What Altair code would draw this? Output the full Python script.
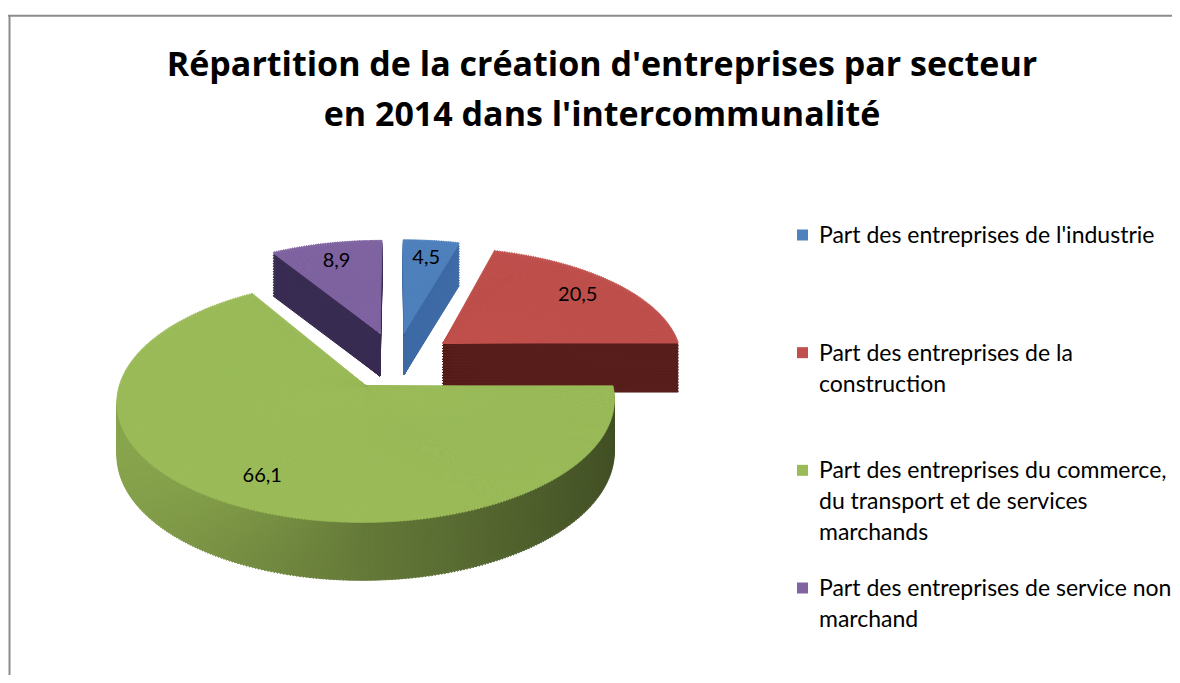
import math
import altair as alt
import pandas as pd

# ---------------- data ----------------
CATEGORIES = [
    "Part des entreprises de l'industrie",
    "Part des entreprises de la construction",
    "Part des entreprises du commerce, du transport et de services marchands",
    "Part des entreprises de service non marchand",
]
VALUES = [4.5, 20.5, 66.1, 8.9]
LEGEND_LINES = [
    "Part des entreprises de l'industrie",
    "Part des entreprises de la\nconstruction",
    "Part des entreprises du commerce,\ndu transport et de services\nmarchands",
    "Part des entreprises de service non\nmarchand",
]
TITLE = [
    "Répartition de la création d'entreprises par secteur",
    "en 2014 dans l'intercommunalité",
]

# ---------------- styles ----------------
TOP_COLORS = ["#4f81bd", "#c0504d", "#9bbb59", "#8064a2"]
SIDE_COLORS = ["#3e6aa6", "#581f1c", "#657a39", "#392c52"]
SIDE_SHADE = [0.0, 0.0, 0.35, 0.0]
FONT = "Lato"
TITLE_FONT = "Open Sans"

# ---------------- layout (page pixels) ----------------
OX, OY = 8, 8
W, H = 1164, 667
CX, CY = 396, 360          # pie centre
A, B = 240, 115            # horizontal / vertical radius
K = 0.13                   # perspective factor
E = 0.25                   # explosion (fraction of radius)
D0 = 50                    # thickness
STEP = math.radians(0.7)
NS = 16
LF = 0.78                  # label radial position


def hex_rgb(h):
    h = h.lstrip("#")
    return [int(h[i:i + 2], 16) for i in (0, 2, 4)]


side_rgb = [hex_rgb(c) for c in SIDE_COLORS]
df = pd.DataFrame({
    "idx": list(range(len(CATEGORIES))),
    "cat": CATEGORIES,
    "value": VALUES,
    "legend": LEGEND_LINES,
    "top": TOP_COLORS,
    "sr": [c[0] for c in side_rgb],
    "sg": [c[1] for c in side_rgb],
    "sb": [c[2] for c in side_rgb],
    "shade": SIDE_SHADE,
})


def sx(u, v):
    return f"({CX - OX} + {A}*({u})*(1-{K}*({v})))"


def sy(u, v):
    return f"({CY - OY} - {B}*({v})*(1-{K}*({v})))"


base = (
    alt.Chart(df)
    .transform_joinaggregate(total="sum(value)")
    .transform_window(cum="sum(value)", sort=[alt.SortField("idx")], frame=[None, 0])
    .transform_calculate(
        p0="2*PI*(datum.cum - datum.value)/datum.total",
        p1="2*PI*datum.cum/datum.total",
    )
    .transform_calculate(pmid="(datum.p0 + datum.p1)/2")
    .transform_calculate(u0=f"{E}*sin(datum.pmid)", v0=f"{E}*cos(datum.pmid)")
    .transform_calculate(x0=sx("datum.u0", "datum.v0"), y0=sy("datum.u0", "datum.v0"))
)

slivers = (
    base.transform_calculate(n=f"ceil((datum.p1 - datum.p0)/{STEP})")
    .transform_calculate(steps="sequence(0, datum.n)")
    .transform_flatten(["steps"], as_=["i"])
    .transform_calculate(
        pa="datum.p0 + datum.i*(datum.p1 - datum.p0)/datum.n",
        pb="datum.p0 + (datum.i + 1)*(datum.p1 - datum.p0)/datum.n",
    )
    .transform_calculate(pm="(datum.pa + datum.pb)/2")
    .transform_calculate(
        ua="datum.u0 + sin(datum.pa)", va="datum.v0 + cos(datum.pa)",
        ub="datum.u0 + sin(datum.pb)", vb="datum.v0 + cos(datum.pb)",
        um="datum.u0 + sin(datum.pm)", vm="datum.v0 + cos(datum.pm)",
    )
    .transform_calculate(
        ta0=f"atan2({sx('datum.ua', 'datum.va')} - datum.x0, datum.y0 - {sy('datum.ua', 'datum.va')})",
        tb0=f"atan2({sx('datum.ub', 'datum.vb')} - datum.x0, datum.y0 - {sy('datum.ub', 'datum.vb')})",
        r=f"sqrt(pow({sx('datum.um', 'datum.vm')} - datum.x0, 2) + pow({sy('datum.um', 'datum.vm')} - datum.y0, 2))",
        dep=f"{D0}*(1 - {K}*datum.vm)",
    )
    .transform_calculate(
        ta="datum.ta0 < 0 ? datum.ta0 + 2*PI : datum.ta0",
        tb1="datum.tb0 < 0 ? datum.tb0 + 2*PI : datum.tb0",
    )
    .transform_calculate(tb="datum.tb1 < datum.ta ? datum.tb1 + 2*PI : datum.tb1")
)

arc_enc = dict(
    theta=alt.Theta("ta:Q", scale=None, stack=None),
    theta2=alt.Theta2("tb:Q"),
    radius=alt.Radius("r:Q", scale=None),
    x=alt.X("x0:Q", scale=None, axis=None),
)

dark = (
    slivers.transform_calculate(ks=f"sequence(1, {NS + 1})")
    .transform_flatten(["ks"], as_=["k"])
    .transform_calculate(
        cy2=f"datum.y0 + datum.dep*({NS} + 1 - datum.k)/{NS}",
        sf="1 - datum.shade*sin(datum.pm)",
    )
    .transform_calculate(
        scol="'rgb(' + round(min(255, datum.sr*datum.sf)) + ',' + round(min(255, datum.sg*datum.sf)) + ',' + round(min(255, datum.sb*datum.sf)) + ')'"
    )
    .mark_arc(strokeWidth=1)
    .encode(
        y=alt.Y("cy2:Q", scale=None, axis=None),
        fill=alt.Fill("scol:N", scale=None),
        stroke=alt.Stroke("scol:N", scale=None),
        **arc_enc,
    )
)

top = slivers.mark_arc(strokeWidth=0.8).encode(
    y=alt.Y("y0:Q", scale=None, axis=None),
    fill=alt.Fill("top:N", scale=None),
    stroke=alt.Stroke("top:N", scale=None),
    **arc_enc,
)

labels = (
    base.transform_calculate(lu=f"datum.u0 + {LF}*sin(datum.pmid)", lv=f"datum.v0 + {LF}*cos(datum.pmid)")
    .transform_calculate(
        lx=sx("datum.lu", "datum.lv"),
        ly=sy("datum.lu", "datum.lv"),
        lbl="replace(format(datum.value, '.1f'), '.', ',')",
    )
    .mark_text(font=FONT, fontSize=20, color="black")
    .encode(
        x=alt.X("lx:Q", scale=None, axis=None),
        y=alt.Y("ly:Q", scale=None, axis=None),
        text=alt.Text("lbl:N"),
    )
)

leg_y = alt.Y(
    "cat:N",
    scale=alt.Scale(domain=CATEGORIES, range=[235 - OY, 588 - OY], padding=0),
    axis=None,
)
legend_sq = alt.Chart(df).mark_square(size=121, opacity=1).encode(
    x=alt.value(802.5 - OX), y=leg_y, fill=alt.Fill("top:N", scale=None)
)
legend_txt = alt.Chart(df).mark_text(
    align="left", baseline="top", lineBreak="\n", font=FONT, fontSize=23,
    lineHeight=31, dy=-10, color="black",
).encode(x=alt.value(819 - OX), y=leg_y, text=alt.Text("legend:N"))

title = alt.Chart(alt.Data(values=[{"t": "\n".join(TITLE)}])).mark_text(
    align="center", baseline="alphabetic", lineBreak="\n", font=TITLE_FONT, fontSize=34,
    fontWeight="bold", lineHeight=50, color="black",
).encode(x=alt.value(602 - OX), y=alt.value(76 - OY), text=alt.Text("t:N"))

one = alt.Data(values=[{"a": 1}])
frame_top = alt.Chart(one).mark_rule(color="#8c8c8c", strokeWidth=2).encode(
    x=alt.value(0), x2=alt.value(W), y=alt.value(15.8 - OY)
)
frame_left = alt.Chart(one).mark_rule(color="#8c8c8c", strokeWidth=2).encode(
    x=alt.value(9.5 - OX), y=alt.value(15 - OY), y2=alt.value(H)
)

chart = (
    alt.layer(frame_top, frame_left, title, dark, top, labels, legend_sq, legend_txt)
    .resolve_scale(x="independent", y="independent")
    .properties(
        width=W,
        height=H,
        padding=0,
        autosize=alt.AutoSizeParams(type="none"),
    )
    .configure_view(stroke=None)
)

chart.save("out.html", embed_options={"renderer": "svg", "actions": False})
